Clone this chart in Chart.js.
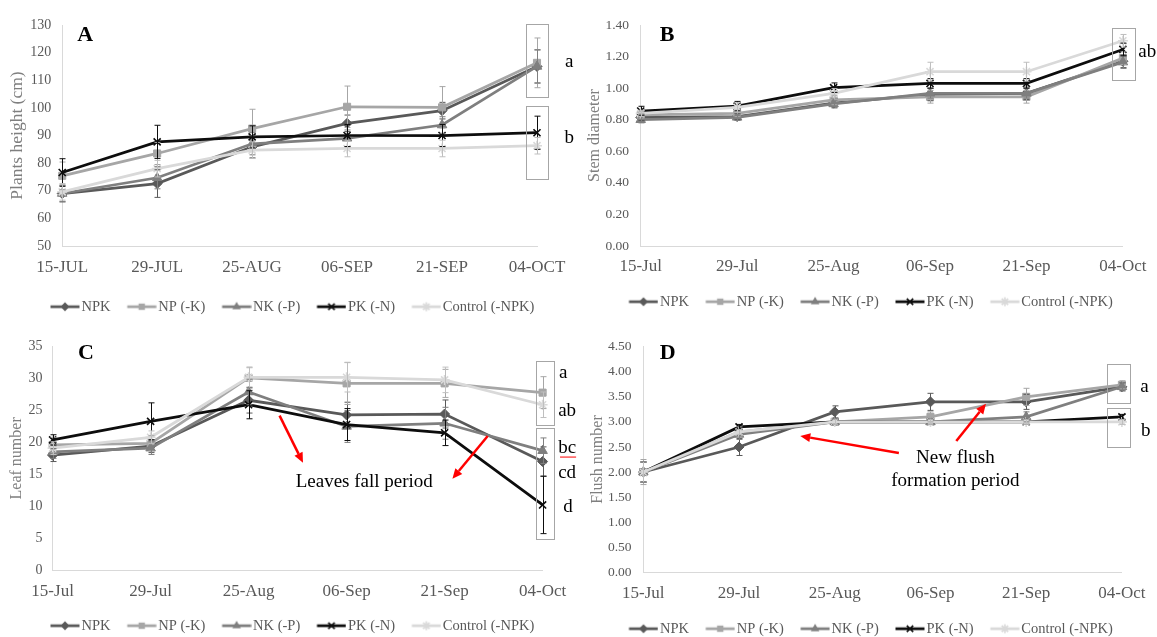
<!DOCTYPE html>
<html>
<head>
<meta charset="utf-8">
<script src="https://cdn.jsdelivr.net/npm/chart.js@4.4.1/dist/chart.umd.min.js"></script>
<style>
html,body{margin:0;padding:0;background:#ffffff;overflow:hidden;width:1157px;height:637px;}
.p{position:absolute;}
canvas{display:block;}
</style>
</head>
<body>
<div class="p" style="left:0px;top:0px;"><canvas id="cA" width="580" height="324"></canvas></div>
<div class="p" style="left:580px;top:0px;"><canvas id="cB" width="577" height="319"></canvas></div>
<div class="p" style="left:0px;top:320px;"><canvas id="cC" width="580" height="323"></canvas></div>
<div class="p" style="left:580px;top:320px;"><canvas id="cD" width="577" height="326"></canvas></div>
<script>
// ---------------- DATA ----------------
const seriesNames = ['NPK', 'NP (-K)', 'NK (-P)', 'PK (-N)', 'Control (-NPK)'];
const datesUpper = ['15-JUL', '29-JUL', '25-AUG', '06-SEP', '21-SEP', '04-OCT'];
const datesLower = ['15-Jul', '29-Jul', '25-Aug', '06-Sep', '21-Sep', '04-Oct'];

// A: Plants height (cm)
const heightNPK  = [69.0, 72.6, 85.9, 94.4, 99.0, 115.0];
const heightNP   = [75.4, 83.5, 92.5, 100.4, 100.2, 116.3];
const heightNK   = [69.0, 74.7, 87.0, 89.0, 93.8, 115.0];
const heightPK   = [76.6, 87.7, 89.5, 90.0, 90.0, 91.0];
const heightCtrl = [69.6, 78.0, 84.7, 85.3, 85.3, 86.3];
const heightErrNPK  = [3, 5, 4, 3, 3, 6];
const heightErrNP   = [5, 4, 7, 7.5, 7.5, 9];
const heightErrNK   = [3, 4, 4, 3, 3, 6];
const heightErrPK   = [5, 6, 4, 4, 4, 6];
const heightErrCtrl = [3, 3, 3, 3, 3, 3];
const heightAxis = [50, 130, 10];

// B: Stem diameter
const stemNPK  = [0.815, 0.82, 0.905, 0.96, 0.967, 1.17];
const stemNP   = [0.83, 0.84, 0.925, 0.945, 0.945, 1.19];
const stemNK   = [0.80, 0.815, 0.90, 0.967, 0.967, 1.165];
const stemPK   = [0.855, 0.886, 1.003, 1.03, 1.03, 1.245];
const stemCtrl = [0.84, 0.878, 0.967, 1.104, 1.104, 1.30];
const stemErrNPK  = [0.02, 0.02, 0.03, 0.04, 0.04, 0.04];
const stemErrNP   = [0.02, 0.02, 0.03, 0.04, 0.04, 0.04];
const stemErrNK   = [0.02, 0.02, 0.02, 0.03, 0.03, 0.04];
const stemErrPK   = [0.03, 0.03, 0.03, 0.03, 0.03, 0.04];
const stemErrCtrl = [0.02, 0.03, 0.03, 0.06, 0.06, 0.04];
const stemAxis = [0, 1.4, 0.2];

// C: Leaf number
const leafNPK  = [18.0, 19.4, 26.6, 24.3, 24.45, 17.0];
const leafNP   = [19.6, 19.85, 30.1, 29.25, 29.25, 27.8];
const leafNK   = [18.5, 19.1, 27.9, 22.5, 23.0, 18.7];
const leafPK   = [20.4, 23.3, 25.9, 22.8, 21.5, 10.2];
const leafCtrl = [19.1, 20.8, 30.2, 30.2, 29.8, 25.9];
const leafErrNPK  = [1.0, 1.0, 2.0, 2.0, 2.2, 2.3];
const leafErrNP   = [1.2, 1.2, 1.7, 3.3, 2.2, 2.5];
const leafErrNK   = [1.0, 1.0, 2.0, 2.5, 2.5, 2.0];
const leafErrPK   = [0.8, 2.9, 2.2, 2.5, 2.0, 4.5];
const leafErrCtrl = [1.0, 1.0, 1.5, 2.3, 2.0, 2.0];
const leafAxis = [0, 35, 5];

// D: Flush number
const flushNPK  = [2.0, 2.5, 3.2, 3.4, 3.4, 3.7];
const flushNP   = [2.0, 2.8, 3.0, 3.1, 3.5, 3.74];
const flushNK   = [2.0, 2.75, 3.0, 3.0, 3.1, 3.7];
const flushPK   = [2.0, 2.9, 3.0, 3.0, 3.0, 3.1];
const flushCtrl = [2.0, 2.8, 3.0, 3.0, 3.0, 3.0];
const flushErrNPK  = [0.2, 0.17, 0.12, 0.17, 0.15, 0.08];
const flushErrNP   = [0.25, 0.1, 0.05, 0.1, 0.17, 0.08];
const flushErrNK   = [0.2, 0.1, 0.05, 0.05, 0.1, 0.08];
const flushErrPK   = [0.2, 0.05, 0.05, 0.05, 0.05, 0.05];
const flushErrCtrl = [0.2, 0.05, 0.05, 0.05, 0.05, 0.05];
const flushAxis = [0, 4.5, 0.5];

// Annotations (in data space: x = category index, y = value)
const boxesA = [[4.88, 5.12, 130.2, 103.8], [4.88, 5.12, 100.6, 74.4]];
const lettersA = [['a', 5.34, 116.6], ['b', 5.34, 89.1]];
const boxesB = [[4.882, 5.129, 1.383, 1.051]];
const lettersB = [['ab', 5.16, 1.23, 'left']];
const boxesC = [[4.933, 5.113, 32.8, 22.7], [4.933, 5.113, 22.3, 4.9]];
const lettersC = [['a', 5.21, 30.9], ['ab', 5.25, 24.95], ['bc', 5.25, 19.1], ['cd', 5.25, 15.2], ['d', 5.26, 9.9]];
const underlineC = [[5.178, 5.342, 17.7]];
const arrowsC = [[2.316, 24.2, 2.555, 16.8], [4.44, 21.0, 4.08, 14.3]];
const notesC = [['Leaves fall period', 3.18, 13.8]];
const boxesD = [[4.84, 5.08, 4.155, 3.383], [4.84, 5.08, 3.28, 2.505]];
const lettersD = [['a', 5.237, 3.7], ['b', 5.25, 2.82]];
const arrowsD = [[2.67, 2.38, 1.64, 2.72], [3.27, 2.62, 3.58, 3.36]];
const notesD = [['New flush', 3.26, 2.28], ['formation period', 3.26, 1.82]];

// ---------------- STYLE ----------------
const SERIF = '"Liberation Serif", "Times New Roman", serif';
const COLORS = ['#595959', '#a6a6a6', '#7f7f7f', '#0d0d0d', '#d9d9d9'];
const MARKERS = ['rectRot', 'rect', 'triangle', 'crossRot', 'star'];
const MARK_R = [5, 5, 5.5, 5, 5];
const MARK_BW = [1, 1, 1, 1.6, 1.6];

function drawMarker(g, style, x, y, r, color, bw) {
  g.save();
  g.fillStyle = color; g.strokeStyle = color; g.lineWidth = bw;
  g.beginPath();
  if (style === 'rectRot') {
    g.moveTo(x, y - r); g.lineTo(x + r, y); g.lineTo(x, y + r); g.lineTo(x - r, y); g.closePath(); g.fill();
  } else if (style === 'rect') {
    const s = r * Math.SQRT1_2; g.rect(x - s, y - s, 2 * s, 2 * s); g.fill();
  } else if (style === 'triangle') {
    g.moveTo(x, y - r); g.lineTo(x + r * 0.866, y + r * 0.5); g.lineTo(x - r * 0.866, y + r * 0.5); g.closePath(); g.fill();
  } else if (style === 'crossRot') {
    const d = r * Math.SQRT1_2;
    g.moveTo(x - d, y - d); g.lineTo(x + d, y + d); g.moveTo(x + d, y - d); g.lineTo(x - d, y + d); g.stroke();
  } else if (style === 'star') {
    const d = r * Math.SQRT1_2;
    g.moveTo(x - d, y - d); g.lineTo(x + d, y + d); g.moveTo(x + d, y - d); g.lineTo(x - d, y + d);
    g.moveTo(x, y - r); g.lineTo(x, y + r); g.moveTo(x - r, y); g.lineTo(x + r, y); g.stroke();
  }
  g.restore();
}

// legend icon: 40px wide image, line drawn on its right 29px
function legendIcon(i) {
  const c = document.createElement('canvas');
  c.width = 40; c.height = 12;
  const g = c.getContext('2d');
  g.strokeStyle = COLORS[i]; g.lineWidth = 2.75;
  g.beginPath(); g.moveTo(10.5, 6); g.lineTo(39.5, 6); g.stroke();
  drawMarker(g, MARKERS[i], 25, 6, MARK_R[i] * 0.9, COLORS[i], MARK_BW[i]);
  return c;
}
const ICONS = seriesNames.map((_, i) => legendIcon(i));

const errorBarPlugin = {
  id: 'errorBars',
  afterDatasetsDraw(chart) {
    const ctx = chart.ctx, ys = chart.scales.y;
    chart.data.datasets.forEach((ds, i) => {
      if (!ds.errors) return;
      const meta = chart.getDatasetMeta(i);
      ctx.save();
      ctx.strokeStyle = ds.errColor; ctx.lineWidth = 1;
      meta.data.forEach((pt, j) => {
        const e = ds.errors[j];
        if (!e) return;
        const v = ds.data[j], x = Math.round(pt.x) + 0.5;
        const y1 = ys.getPixelForValue(v + e), y2 = ys.getPixelForValue(v - e);
        ctx.beginPath();
        ctx.moveTo(x, y1); ctx.lineTo(x, y2);
        ctx.moveTo(x - 3, y1); ctx.lineTo(x + 3, y1);
        ctx.moveTo(x - 3, y2); ctx.lineTo(x + 3, y2);
        ctx.stroke();
      });
      ctx.restore();
    });
  }
};

function drawArrow(ctx, x1, y1, x2, y2) {
  const ang = Math.atan2(y2 - y1, x2 - x1), L = 10, W = 4.5;
  const bx = x2 - L * Math.cos(ang), by = y2 - L * Math.sin(ang);
  ctx.strokeStyle = '#ff0000'; ctx.fillStyle = '#ff0000'; ctx.lineWidth = 2.5;
  ctx.beginPath(); ctx.moveTo(x1, y1); ctx.lineTo(bx, by); ctx.stroke();
  ctx.beginPath(); ctx.moveTo(x2, y2);
  ctx.lineTo(bx + W * Math.sin(ang), by - W * Math.cos(ang));
  ctx.lineTo(bx - W * Math.sin(ang), by + W * Math.cos(ang));
  ctx.closePath(); ctx.fill();
}

function makeAnnot(cfg) {
  return {
    id: 'annot',
    afterDraw(chart) {
      const ctx = chart.ctx, xs = chart.scales.x, ys = chart.scales.y, ca = chart.chartArea;
      const px = v => xs.getPixelForValue(v), py = v => ys.getPixelForValue(v);
      ctx.save();
      ctx.textBaseline = 'middle';
      ctx.fillStyle = '#000';
      ctx.font = 'bold 22px ' + SERIF; ctx.textAlign = 'center';
      ctx.fillText(cfg.panel, ca.left + cfg.panelDx, ca.top + cfg.panelDy);
      ctx.strokeStyle = '#a6a6a6'; ctx.lineWidth = 1;
      (cfg.boxes || []).forEach(b => {
        const x1 = Math.round(px(b[0])) + 0.5, x2 = Math.round(px(b[1])) + 0.5;
        const y1 = Math.round(py(b[2])) + 0.5, y2 = Math.round(py(b[3])) + 0.5;
        ctx.strokeRect(x1, y1, x2 - x1, y2 - y1);
      });
      ctx.font = '19px ' + SERIF; ctx.fillStyle = '#000';
      (cfg.letters || []).forEach(l => { ctx.textAlign = l[3] || 'center'; ctx.fillText(l[0], px(l[1]), py(l[2])); });
      ctx.strokeStyle = '#ff0000'; ctx.lineWidth = 1;
      (cfg.underline || []).forEach(u => { ctx.beginPath(); ctx.moveTo(px(u[0]), py(u[2])); ctx.lineTo(px(u[1]), py(u[2])); ctx.stroke(); });
      (cfg.arrows || []).forEach(a => drawArrow(ctx, px(a[0]), py(a[1]), px(a[2]), py(a[3])));
      ctx.font = '19px ' + SERIF; ctx.fillStyle = '#000'; ctx.textAlign = 'center';
      (cfg.notes || []).forEach(n => ctx.fillText(n[0], px(n[1]), py(n[2])));
      ctx.restore();
    }
  };
}

function panel(id, cfg) {
  const datasets = cfg.values.map((vals, i) => ({
    label: seriesNames[i],
    data: vals,
    errors: cfg.errors[i],
    errColor: i === 4 ? '#bfbfbf' : COLORS[i],
    borderColor: COLORS[i],
    backgroundColor: COLORS[i],
    borderWidth: 2.75,
    pointStyle: MARKERS[i],
    pointRadius: MARK_R[i],
    pointBorderWidth: MARK_BW[i],
    pointBackgroundColor: COLORS[i],
    pointBorderColor: COLORS[i],
    tension: 0,
    order: 5 - i
  }));
  return new Chart(document.getElementById(id), {
    type: 'line',
    data: { labels: cfg.labels, datasets },
    options: {
      responsive: false,
      animation: false,
      events: [],
      layout: { padding: { left: 0, right: 0, top: cfg.top, bottom: 0 } },
      scales: {
        x: {
          type: 'category', offset: false,
          grid: { display: false, drawTicks: false },
          border: { display: true, color: '#d9d9d9', width: 1 },
          ticks: { color: '#595959', font: { family: SERIF, size: 17 }, padding: cfg.xPad, autoSkip: false, maxRotation: 0 },
          afterFit: s => { s.height = cfg.xH; }
        },
        y: {
          min: cfg.axis[0], max: cfg.axis[1],
          grid: { display: false, drawTicks: false },
          border: { display: true, color: '#d9d9d9', width: 1 },
          ticks: {
            stepSize: cfg.axis[2], color: '#595959', font: { family: SERIF, size: cfg.yFont }, padding: cfg.yPad,
            callback: v => cfg.decimals ? Number(v).toFixed(cfg.decimals) : String(Math.round(v))
          },
          title: { display: true, text: cfg.title, color: '#7f7f7f', font: { family: SERIF, size: cfg.titleFont }, padding: { top: cfg.titlePad, bottom: 0 } },
          afterFit: s => { s.width = cfg.yW; }
        },
        pad: {
          type: 'linear', position: 'right', display: true,
          grid: { display: false, drawTicks: false }, border: { display: false }, ticks: { display: false },
          afterFit: s => { s.width = cfg.rightW; }
        }
      },
      plugins: {
        tooltip: { enabled: false },
        legend: {
          position: 'bottom',
          sort: (a, b) => a.datasetIndex - b.datasetIndex,
          labels: {
            usePointStyle: true, pointStyleWidth: 28.5, boxHeight: 12,
            padding: 12, color: '#595959', font: { family: SERIF, size: 14.5 },
            generateLabels: chart => chart.data.datasets.map((ds, i) => ({
              text: ds.label, pointStyle: ICONS[i], datasetIndex: i, hidden: false,
              lineWidth: 0, strokeStyle: 'rgba(0,0,0,0)', fillStyle: 'rgba(0,0,0,0)', fontColor: '#595959'
            }))
          }
        }
      }
    },
    plugins: [errorBarPlugin, makeAnnot(cfg)]
  });
}

panel('cA', {
  labels: datesUpper,
  values: [heightNPK, heightNP, heightNK, heightPK, heightCtrl],
  errors: [heightErrNPK, heightErrNP, heightErrNK, heightErrPK, heightErrCtrl],
  axis: heightAxis, decimals: 0, title: 'Plants height (cm)', titleFont: 17.5,
  top: 25, xH: 41.5, xPad: 11.8, yW: 62.2, yPad: 11, yFont: 14, titlePad: 7.3, rightW: 43,
  panel: 'A', panelDx: 23, panelDy: 10,
  boxes: boxesA, letters: lettersA
});
panel('cB', {
  labels: datesLower,
  values: [stemNPK, stemNP, stemNK, stemPK, stemCtrl],
  errors: [stemErrNPK, stemErrNP, stemErrNK, stemErrPK, stemErrCtrl],
  axis: stemAxis, decimals: 2, title: 'Stem diameter', titleFont: 16,
  top: 25, xH: 36.5, xPad: 10.5, yW: 60.7, yPad: 11.7, yFont: 13.5, titlePad: 5.1, rightW: 33,
  panel: 'B', panelDx: 26.5, panelDy: 10,
  boxes: boxesB, letters: lettersB
});
panel('cC', {
  labels: datesLower,
  values: [leafNPK, leafNP, leafNK, leafPK, leafCtrl],
  errors: [leafErrNPK, leafErrNP, leafErrNK, leafErrPK, leafErrCtrl],
  axis: leafAxis, decimals: 0, title: 'Leaf number', titleFont: 16,
  top: 26.7, xH: 36.5, xPad: 11.5, yW: 52.6, yPad: 10, yFont: 14, titlePad: 7.1, rightW: 37.4,
  panel: 'C', panelDx: 33.4, panelDy: 7,
  boxes: boxesC, letters: lettersC, underline: underlineC, arrows: arrowsC, notes: notesC
});
panel('cD', {
  labels: datesLower,
  values: [flushNPK, flushNP, flushNK, flushPK, flushCtrl],
  errors: [flushErrNPK, flushErrNP, flushErrNK, flushErrPK, flushErrCtrl],
  axis: flushAxis, decimals: 2, title: 'Flush number', titleFont: 16,
  top: 26.7, xH: 37.2, xPad: 11.5, yW: 63.3, yPad: 11.8, yFont: 13.5, titlePad: 8.1, rightW: 33,
  panel: 'D', panelDx: 24.3, panelDy: 7,
  boxes: boxesD, letters: lettersD, arrows: arrowsD, notes: notesD
});
</script>
</body>
</html>
